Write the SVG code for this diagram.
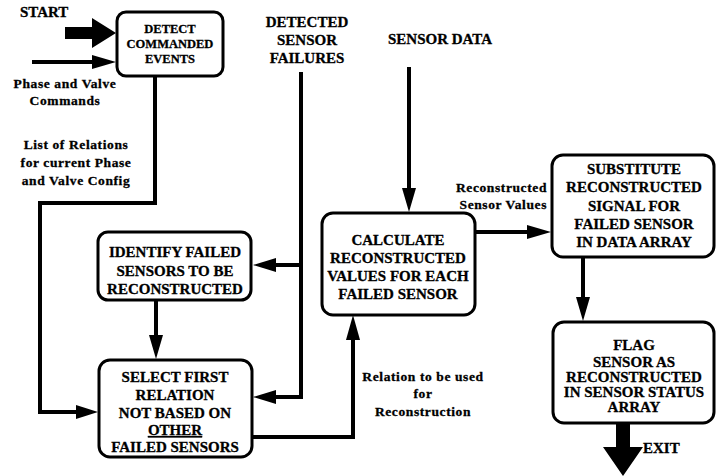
<svg xmlns="http://www.w3.org/2000/svg" width="716" height="476" viewBox="0 0 716 476">
<style>
.box{fill:#fff;stroke:#000;stroke-width:3}
.bt{font-family:"Liberation Serif","Times New Roman",serif;font-weight:bold;font-size:15px;text-anchor:middle;fill:#000;stroke:#000;stroke-width:0.3}
.sm{font-size:12.5px}
.lb{font-family:"Liberation Serif","Times New Roman",serif;font-weight:bold;font-size:13.5px;letter-spacing:0.6px;fill:#000;stroke:#000;stroke-width:0.3}
.hd{font-family:"Liberation Serif","Times New Roman",serif;font-weight:bold;font-size:15px;fill:#000;stroke:#000;stroke-width:0.3}
.c{text-anchor:middle}
.r{text-anchor:end}
.ln{fill:none;stroke:#000;stroke-width:4}
.ah{fill:#000;stroke:none}
</style>
<rect width="716" height="476" fill="#fff"/>

<g id="connectors">
  <polygon class="ah" points="65,27 92,27 92,18 116,33 92,48 92,39 65,39"/>
  <line class="ln" x1="32" y1="62" x2="94" y2="62"/>
  <polygon class="ah" points="92,55 116,62 92,69"/>
  <path class="ln" d="M155,76 V203 H40 V412 H80"/>
  <polygon class="ah" points="76,405 98,412 76,419"/>
  <path class="ln" d="M301,72 V397 H272"/>
  <path class="ln" d="M301,265 H272"/>
  <polygon class="ah" points="276,258 253,265 276,272"/>
  <polygon class="ah" points="276,390 253,397 276,404"/>
  <path class="ln" d="M156,300 V338"/>
  <polygon class="ah" points="149,335 156,359 163,335"/>
  <path class="ln" d="M252,437 H353 V336"/>
  <polygon class="ah" points="346,340 353,315 360,340"/>
  <path class="ln" d="M409,67 V192"/>
  <polygon class="ah" points="402,188 409,212 416,188"/>
  <path class="ln" d="M475,232 H530"/>
  <polygon class="ah" points="527,225 551,232 527,239"/>
  <path class="ln" d="M583,257 V300"/>
  <polygon class="ah" points="576,297 583,321 590,297"/>
  <polygon class="ah" points="616,423 630,423 630,447 643,447 623,476 603,447 616,447"/>
</g>

<g id="labels">
  <text class="hd" x="20" y="17">START</text>
  <text class="lb c" x="65" y="88">Phase and Valve</text>
  <text class="lb c" x="65" y="105">Commands</text>
  <text class="lb c" x="76" y="149">List of Relations</text>
  <text class="lb c" x="76" y="167">for current Phase</text>
  <text class="lb c" x="76" y="185">and Valve Config</text>
  <text class="hd c" x="307" y="27">DETECTED</text>
  <text class="hd c" x="307" y="45">SENSOR</text>
  <text class="hd c" x="307" y="63">FAILURES</text>
  <text class="hd" x="388" y="44">SENSOR DATA</text>
  <text class="lb r" x="547" y="192">Reconstructed</text>
  <text class="lb r" x="547" y="209">Sensor Values</text>
  <text class="lb c" x="423" y="381">Relation to be used</text>
  <text class="lb c" x="423" y="398">for</text>
  <text class="lb c" x="423" y="416">Reconstruction</text>
  <text class="hd" x="643" y="453">EXIT</text>
</g>

<g id="detect">
  <rect class="box" x="117" y="12" width="106" height="64" rx="9"/>
  <text class="bt sm" x="170" y="33">DETECT</text>
  <text class="bt sm" x="170" y="48">COMMANDED</text>
  <text class="bt sm" x="170" y="63">EVENTS</text>
</g>

<g id="identify">
  <rect class="box" x="98" y="232" width="153" height="68" rx="10"/>
  <text class="bt" x="175" y="257">IDENTIFY FAILED</text>
  <text class="bt" x="175" y="276">SENSORS  TO BE</text>
  <text class="bt" x="175" y="294">RECONSTRUCTED</text>
</g>

<g id="select">
  <rect class="box" x="99" y="360" width="153" height="97" rx="11"/>
  <text class="bt" x="175" y="382">SELECT FIRST</text>
  <text class="bt" x="175" y="400">RELATION</text>
  <text class="bt" x="175" y="418">NOT BASED ON</text>
  <text class="bt" x="175" y="435" text-decoration="underline">OTHER</text>
  <text class="bt" x="175" y="452">FAILED SENSORS</text>
</g>

<g id="calculate">
  <rect class="box" x="322" y="213" width="153" height="102" rx="11"/>
  <text class="bt" x="398" y="245">CALCULATE</text>
  <text class="bt" x="398" y="263">RECONSTRUCTED</text>
  <text class="bt" x="398" y="281">VALUES FOR EACH</text>
  <text class="bt" x="398" y="299">FAILED SENSOR</text>
</g>

<g id="substitute">
  <rect class="box" x="552" y="155" width="162" height="102" rx="11"/>
  <text class="bt" x="634" y="174">SUBSTITUTE</text>
  <text class="bt" x="634" y="192">RECONSTRUCTED</text>
  <text class="bt" x="634" y="211">SIGNAL FOR</text>
  <text class="bt" x="634" y="229">FAILED SENSOR</text>
  <text class="bt" x="634" y="247">IN DATA ARRAY</text>
</g>

<g id="flag">
  <rect class="box" x="553" y="322" width="161" height="101" rx="11"/>
  <text class="bt" x="634" y="350">FLAG</text>
  <text class="bt" x="634" y="367">SENSOR AS</text>
  <text class="bt" x="634" y="382">RECONSTRUCTED</text>
  <text class="bt" x="634" y="397">IN SENSOR STATUS</text>
  <text class="bt" x="634" y="412">ARRAY</text>
</g>
</svg>
